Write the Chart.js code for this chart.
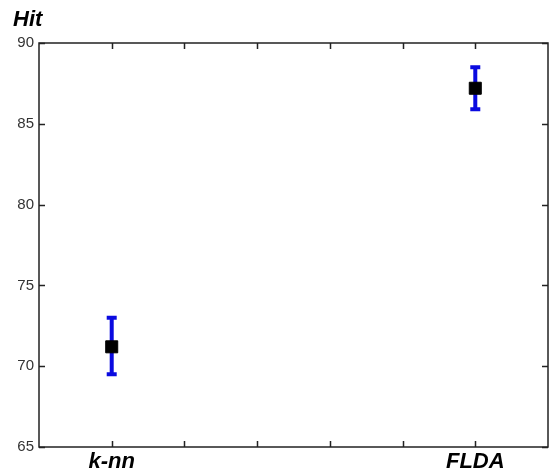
<!DOCTYPE html>
<html>
<head>
<meta charset="utf-8">
<script src="https://cdn.jsdelivr.net/npm/chart.js@4/dist/chart.umd.min.js"></script>
<style>
  html, body { margin: 0; padding: 0; background: #fff; overflow: hidden; }
  #wrap { width: 551px; height: 475px; }
</style>
</head>
<body>
<div id="wrap"><canvas id="hitChart"></canvas></div>
<script>
// values
const methods = ['k-nn', 'FLDA'];
const methodPos = [1, 6];
const hitMean = [71.2, 87.2];
const hitLow = [69.5, 85.9];
const hitHigh = [73.0, 88.5];
const yTicks = [65, 70, 75, 80, 85, 90];
const xTicks = [1, 2, 3, 4, 5, 6];

const axisColor = '#222';
const barColor = '#0a0ae0';

let points = methodPos.map((p, i) => ({ x: p, y: hitMean[i] }));

// error bars, drawn under the markers
const errorBars = {
    id: 'errorBars',
    beforeDatasetsDraw(chart) {
        let ctx = chart.ctx;
        let xs = chart.scales.x;
        let ys = chart.scales.y;
        ctx.save();
        ctx.strokeStyle = barColor;
        ctx.lineWidth = 4;
        methodPos.forEach((p, i) => {
            let px = xs.getPixelForValue(p);
            let top = ys.getPixelForValue(hitHigh[i]);
            let bot = ys.getPixelForValue(hitLow[i]);
            ctx.beginPath();
            ctx.moveTo(px, top);
            ctx.lineTo(px, bot);
            ctx.moveTo(px - 5, top);
            ctx.lineTo(px + 5, top);
            ctx.moveTo(px - 5, bot);
            ctx.lineTo(px + 5, bot);
            ctx.stroke();
        });
        ctx.restore();
    }
};

// matlab style box with inward ticks on all sides
const boxTicks = {
    id: 'boxTicks',
    afterDraw(chart) {
        let ctx = chart.ctx;
        let a = chart.chartArea;
        let xs = chart.scales.x;
        let ys = chart.scales.y;
        ctx.save();
        ctx.strokeStyle = axisColor;
        ctx.lineWidth = 1.5;
        ctx.strokeRect(a.left, a.top, a.right - a.left, a.bottom - a.top);
        ctx.beginPath();
        xTicks.forEach(t => {
            let px = Math.round(xs.getPixelForValue(t)) + 0.5;
            ctx.moveTo(px, a.bottom);
            ctx.lineTo(px, a.bottom - 6);
            ctx.moveTo(px, a.top);
            ctx.lineTo(px, a.top + 6);
        });
        yTicks.forEach(t => {
            let py = Math.round(ys.getPixelForValue(t)) + 0.5;
            ctx.moveTo(a.left, py);
            ctx.lineTo(a.left + 6, py);
            ctx.moveTo(a.right, py);
            ctx.lineTo(a.right - 6, py);
        });
        ctx.stroke();
        ctx.restore();
    }
};

new Chart(document.getElementById('hitChart'), {
    type: 'scatter',
    data: {
        datasets: [{
            data: points,
            pointStyle: 'rect',
            pointRadius: 8.5,
            pointHoverRadius: 8.5,
            backgroundColor: '#000',
            borderColor: '#000',
            borderWidth: 1
        }]
    },
    options: {
        responsive: true,
        maintainAspectRatio: false,
        animation: false,
        layout: {
            autoPadding: false,
            padding: { left: 13, right: 3, top: 0, bottom: 0 }
        },
        plugins: {
            legend: { display: false },
            tooltip: { enabled: false },
            title: {
                display: true,
                text: 'Hit',
                align: 'start',
                color: '#000',
                font: { family: 'Liberation Sans', size: 22, weight: 'bold', style: 'italic' },
                padding: { top: 7, bottom: 9.6 }
            }
        },
        scales: {
            x: {
                type: 'linear',
                min: 0,
                max: 7,
                afterBuildTicks: scale => {
                    scale.ticks = xTicks.map(v => ({ value: v }));
                },
                afterFit: scale => {
                    scale.height = 28;
                    scale.paddingLeft = 0;
                    scale.paddingRight = 0;
                },
                grid: { display: false, drawTicks: false },
                border: { display: false },
                ticks: {
                    padding: 2,
                    color: '#000',
                    font: { family: 'Liberation Sans', size: 22, weight: 'bold', style: 'italic' },
                    callback: v => {
                        let i = methodPos.indexOf(v);
                        return i >= 0 ? methods[i] : '';
                    }
                }
            },
            y: {
                min: 65,
                max: 90,
                afterBuildTicks: scale => {
                    scale.ticks = yTicks.map(v => ({ value: v }));
                },
                afterFit: scale => { scale.width = 26; },
                grid: { display: false, drawTicks: false },
                border: { display: false },
                ticks: {
                    padding: 5,
                    color: '#333',
                    font: { family: 'Liberation Sans', size: 15 }
                }
            }
        }
    },
    plugins: [errorBars, boxTicks]
});
</script>
</body>
</html>
